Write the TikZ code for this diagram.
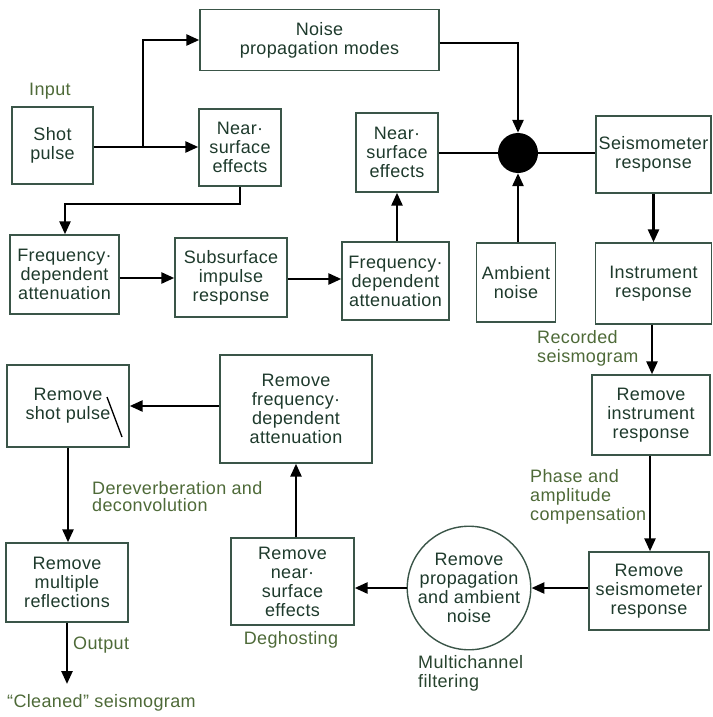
\documentclass[tikz,border=0pt]{standalone}
\usepackage{fontspec}
\setmainfont{Liberation Sans}[LetterSpace=2]
\usetikzlibrary{arrows.meta,shapes.geometric}
\definecolor{boxline}{HTML}{3A5548}
\definecolor{boxtext}{HTML}{1E3A2C}
\definecolor{lblcol}{HTML}{4E6A38}
\begin{document}
\begin{tikzpicture}[x=1pt,y=-1pt,
 box/.style={draw=boxline, line width=1.4pt, align=center, text=boxtext, font=\fontsize{18}{19}\selectfont, inner sep=0pt},
 arr/.style={line width=2.6pt, -{Triangle[length=13pt,width=11pt]}},
 ln/.style={line width=2.6pt},
 lbl/.style={text=lblcol, font=\fontsize{18}{19}\selectfont, align=left, inner sep=0pt}]
\useasboundingbox (0,0) rectangle (712,717);

% top section
\node[box, minimum width=239pt, minimum height=61pt] (noise) at (319.5,40) {Noise\\propagation modes};
\node[box, minimum width=81pt, minimum height=77pt] (shot) at (52.5,145.5) {Shot\\pulse};
\node[box, minimum width=82pt, minimum height=77pt] (ns1) at (240,147.5) {Near·\\surface\\effects};
\node[box, minimum width=82pt, minimum height=79pt] (ns2) at (397,152.5) {Near·\\surface\\effects};
\node[circle, fill=black, minimum size=40pt, inner sep=0pt] (dot) at (518,153) {};
\node[box, minimum width=115pt, minimum height=77pt] (seis) at (653.5,154.5) {Seismometer\\response};

\node[box, minimum width=109pt, minimum height=79pt] (freq1) at (64.5,274.5) {Frequency·\\dependent\\attenuation};
\node[box, minimum width=112pt, minimum height=79pt] (sub) at (231,277.5) {Subsurface\\impulse\\response};
\node[box, minimum width=107pt, minimum height=78pt] (freq2) at (395.5,281) {Frequency·\\dependent\\attenuation};
\node[box, minimum width=79pt, minimum height=79pt] (amb) at (516,282.5) {Ambient\\noise};
\node[box, minimum width=116pt, minimum height=81pt] (inst) at (653.5,283.5) {Instrument\\response};

% bottom section
\node[box, minimum width=118pt, minimum height=80pt] (rinst) at (651,415) {Remove\\instrument\\response};
\node[box, minimum width=152pt, minimum height=108pt] (rfreq) at (296,409) {Remove\\frequency·\\dependent\\attenuation};
\node[box, minimum width=122pt, minimum height=82pt] (rshot) at (68,406) {Remove\\shot pulse};
\node[box, minimum width=122pt, minimum height=79pt] (rmult) at (67,582.5) {Remove\\multiple\\reflections};
\node[box, minimum width=123pt, minimum height=87pt] (rns) at (292.5,581.5) {Remove\\near·\\surface\\effects};
\node[box, circle, minimum size=122pt] (rprop) at (469,588) {Remove\\propagation\\and ambient\\noise};
\node[box, minimum width=120pt, minimum height=78pt] (rseis) at (649,591) {Remove\\seismometer\\response};

% labels
\node[lbl, anchor=west] (linput) at (29,91) {Input};
\node[lbl, anchor=west] (lrec) at (537,348) {Recorded\\seismogram};
\node[lbl, anchor=west] (lphase) at (530,497) {Phase and\\amplitude\\compensation};
\node[lbl, anchor=west, font=\fontsize{18}{17.5}\selectfont] (lderev) at (92,496.5) {Dereverberation and\\deconvolution};
\node[lbl, anchor=west] (lout) at (73,645) {Output};
\node[lbl, anchor=west] (lclean) at (7,703) {``Cleaned'' seismogram};
\node[lbl] (ldeg) at (291,640) {Deghosting};
\node[lbl, anchor=west, text=boxtext!80!lblcol] (lmulti) at (418,673) {Multichannel\\filtering};

% connectors
\coordinate (br) at (143,147);
\coordinate (k1) at (65,204);
\coordinate (outend) at (67,684);
\draw[arr] (shot.east |- br) -- (ns1.west |- br);
\draw[arr] (br) |- (noise.west);
\draw[arr] (ns1.south) |- (k1) -- (k1 |- freq1.north);
\draw[arr] (freq1.east |- 0,278) -- (sub.west |- 0,278);
\draw[arr] (sub.east |- 0,279) -- (freq2.west |- 0,279);
\draw[arr] (freq2.north -| ns2.south) -- (ns2.south);
\draw[ln] (ns2.east |- dot.west) -- (dot.west);
\draw[arr] (noise.east |- 0,43) -| (dot.north);
\draw[arr] (amb.north -| dot.south) -- (dot.south);
\draw[ln] (dot.east) -- (seis.west |- dot.east);
\draw[arr] (seis.south) -- (inst.north);
\draw[arr] (inst.south -| 652,0) -- (rinst.north -| 652,0);
\draw[arr] (rinst.south -| 650,0) -- (rseis.north -| 650,0);
\draw[arr] (rseis.west |- rprop.east) -- (rprop.east);
\draw[arr] (rprop.west) -- (rns.east |- rprop.west);
\draw[arr] (rns.north -| rfreq.south) -- (rfreq.south);
\draw[arr] (rfreq.west |- rshot.east) -- (rshot.east);
\draw[arr] (rshot.south) -- (rshot.south |- rmult.north);
\draw[arr] (rmult.south) -- (outend);

% scan mark on "Remove shot pulse"
\draw[line width=1.3pt, black] (107,397) -- (122,437);
\end{tikzpicture}
\end{document}
